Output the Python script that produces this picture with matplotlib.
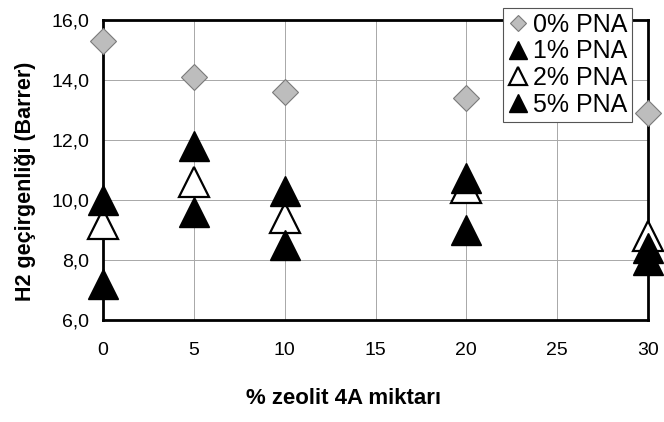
import matplotlib
matplotlib.use("Agg")
import matplotlib.pyplot as plt

plt.rcParams['font.family'] = ['Liberation Sans', 'DejaVu Sans']

# zeolite content (%)
zeolite = [0, 5, 10, 20, 30]

# H2 permeability (Barrer) for each PNA loading
pna_0 = [15.3, 14.1, 13.6, 13.4, 12.9]
pna_1 = [10.0, 11.8, 10.3, 10.75, 8.4]
pna_2 = [9.2, 10.6, 9.4, 10.4, 8.8]
pna_5 = [7.2, 9.6, 8.5, 9.0, 8.0]

xticks = [0, 5, 10, 15, 20, 25, 30]
yticks = [6, 8, 10, 12, 14, 16]
ytick_labels = ['6,0', '8,0', '10,0', '12,0', '14,0', '16,0']

fig = plt.figure(figsize=(6.64, 4.22), dpi=100)
ax = fig.add_axes([103 / 664, 1 - 320 / 422, 545 / 664, 300 / 422])

ax.plot(zeolite, pna_0, linestyle='none', marker='D', markersize=13,
        markerfacecolor='#bdbdbd', markeredgecolor='#7a7a7a', markeredgewidth=0.8,
        label='0% PNA', zorder=4, clip_on=False)
ax.plot(zeolite, pna_1, linestyle='none', marker='^', markersize=21,
        color='black', label='1% PNA', zorder=5, clip_on=False)
ax.plot(zeolite, pna_2, linestyle='none', marker='^', markersize=21,
        markerfacecolor='white', markeredgecolor='black', markeredgewidth=1.6,
        label='2% PNA', zorder=4, clip_on=False)
ax.plot(zeolite, pna_5, linestyle='none', marker='^', markersize=21,
        color='black', label='5% PNA', zorder=5, clip_on=False)

ax.set_xlim(0, 30)
ax.set_ylim(6, 16)
ax.set_xticks(xticks)
ax.set_yticks(yticks)
ax.set_yticklabels(ytick_labels)
ax.tick_params(axis='both', length=0, labelsize=14)
ax.tick_params(axis='x', pad=16)
ax.tick_params(axis='y', pad=10)

ax.grid(True, color='#a8a8a8', linewidth=0.7)
ax.set_axisbelow(True)
for s in ax.spines.values():
    s.set_linewidth(2)
    s.set_color('black')
    s.set_zorder(3)

fig.text(343 / 664, 1 - 399 / 422, '% zeolit 4A miktarı', ha='center', va='center',
         fontsize=16, fontweight='bold')
fig.text(25 / 664, 1 - 181 / 422, 'H2 geçirgenliği (Barrer)', ha='center', va='center',
         rotation=90, fontsize=15.5, fontweight='bold')

leg = ax.legend(loc='upper right', bbox_to_anchor=(632 / 664, 1 - 8 / 422),
                bbox_transform=fig.transFigure, borderaxespad=0, fontsize=18,
                markerscale=0.6, handlelength=0.8, handletextpad=0.2,
                borderpad=0.2, labelspacing=0.1, fancybox=False, framealpha=1)
leg.get_frame().set_edgecolor('#555555')
leg.get_frame().set_linewidth(0.8)
leg.set_zorder(10)

fig.savefig('out.png', dpi=100)
